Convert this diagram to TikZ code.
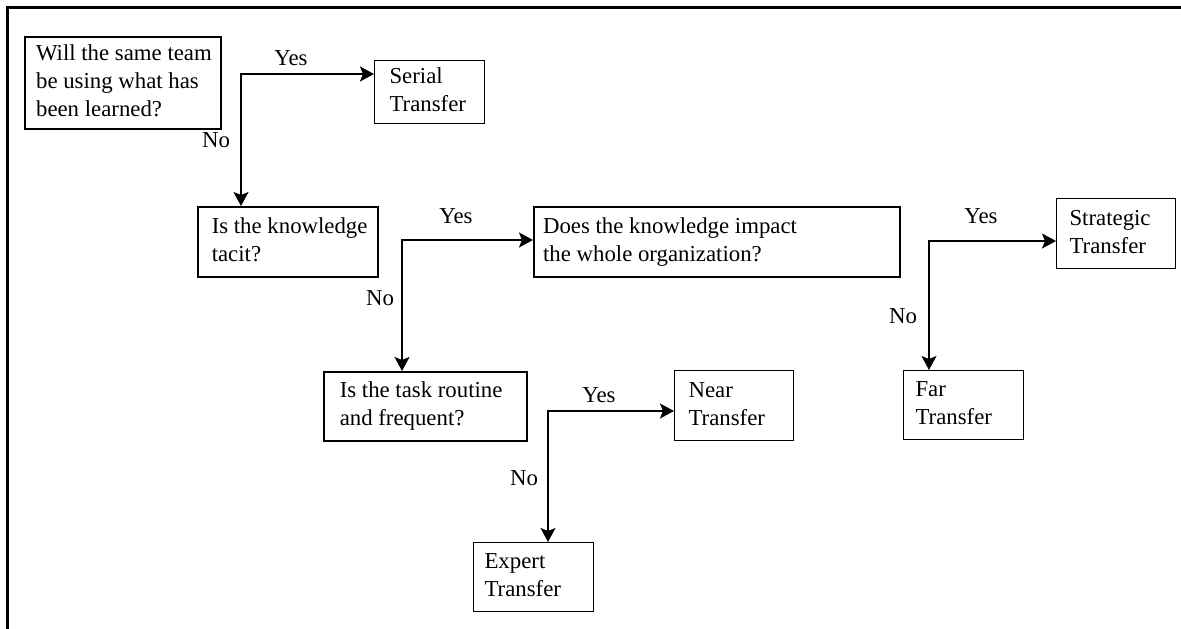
\documentclass[tikz,border=0pt]{standalone}
\usepackage{fontspec}
\setmainfont{Liberation Serif}
\usetikzlibrary{arrows.meta}
% left-aligned lines in a box of fixed width #1 with left padding #2
\newcommand{\boxlines}[3]{\makebox[#1pt][l]{\hspace*{#2pt}\begin{tabular}{@{}l@{}}#3\end{tabular}}}
\begin{document}
\begin{tikzpicture}[x=1pt,y=-1pt,
  every node/.style={font=\fontsize{22.8}{28}\selectfont},
  box/.style={draw, inner sep=0pt, anchor=north west, line width=1.1pt},
  question/.style={box, line width=2.2pt},
  midq/.style={box, line width=1.5pt},
  tip/.style={Stealth[length=14pt,width=15pt,inset=3pt]},
  conn/.style={line width=1.5pt, {Stealth[length=14pt,width=15pt,inset=3pt]}-{Stealth[length=14pt,width=15pt,inset=3pt]}},
  answer/.style={anchor=base, inner sep=0pt}]
\useasboundingbox (0,0) rectangle (1181,629);
% outer frame
\draw[line width=3pt] (7,629) -- (7,7) -- (1181,7);

% questions
\node[question, minimum width=196pt, minimum height=92pt] (q1) at (24,36)
  {\boxlines{196}{11}{Will the same team\\be using what has\\been learned?}};
\node[midq, minimum width=180pt, minimum height=70pt] (q2) at (197,206)
  {\boxlines{180}{14}{Is the knowledge\\tacit?}};
\node[question, minimum width=366pt, minimum height=70pt] (q3) at (533,206)
  {\boxlines{366}{9}{Does the knowledge impact\\the whole organization?}};
\node[midq, minimum width=203pt, minimum height=69pt] (q4) at (323,371)
  {\boxlines{203}{16}{Is the task routine\\and frequent?}};

% outcomes
\node[box, minimum width=110pt, minimum height=63pt] (serial) at (374,60)
  {\boxlines{110}{15}{Serial\\Transfer}};
\node[box, minimum width=119pt, minimum height=70pt] (strategic) at (1056,198)
  {\boxlines{119}{13}{Strategic\\Transfer}};
\node[box, minimum width=120pt, minimum height=69pt] (far) at (903,370)
  {\boxlines{120}{12}{Far\\Transfer}};
\node[box, minimum width=119pt, minimum height=70pt] (near) at (674,370)
  {\boxlines{119}{14}{Near\\Transfer}};
\node[box, minimum width=120pt, minimum height=69pt] (expert) at (473,542)
  {\boxlines{120}{11}{Expert\\Transfer}};

% branch points
\coordinate (b1) at (241,74);
\coordinate (b2) at (402,240);
\coordinate (b3) at (929,241);
\coordinate (b4) at (548,411);

% connectors
\draw[conn] (b1 |- q2.north) -- (b1) -- (b1 -| serial.west);
\draw[conn] (b2 |- q4.north) -- (b2) -- (b2 -| q3.west);
\draw[conn] (b3 |- far.north) -- (b3) -- (b3 -| strategic.west);
\draw[conn] (b4 |- expert.north) -- (b4) -- (b4 -| near.west);

% answers
\node[answer] (yes1) at (291,65) {Yes};
\node[answer] (no1) at (216,147) {No};
\node[answer] (yes2) at (456,223) {Yes};
\node[answer] (no2) at (380,305) {No};
\node[answer] (yes3) at (981,223) {Yes};
\node[answer] (no3) at (903,323) {No};
\node[answer] (yes4) at (599,402) {Yes};
\node[answer] (no4) at (524,485) {No};
\end{tikzpicture}
\end{document}
